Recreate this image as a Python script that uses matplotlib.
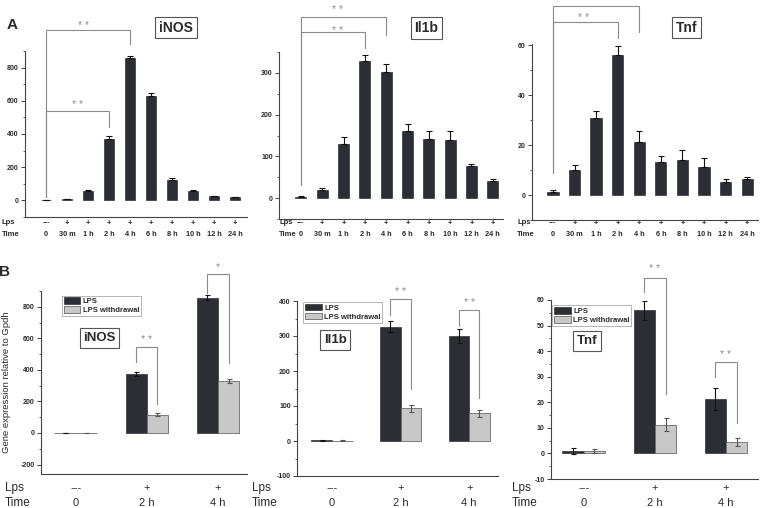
import numpy as np
import matplotlib
matplotlib.use('Agg')
import matplotlib.pyplot as plt
import matplotlib.transforms as mtransforms
from matplotlib.ticker import MultipleLocator
from matplotlib.patches import Patch

plt.rcParams['font.family'] = ['Liberation Sans', 'DejaVu Sans']
plt.rcParams['axes.unicode_minus'] = False

# ---- panel A data (time course) ----
time_a = ['0', '30 m', '1 h', '2 h', '4 h', '6 h', '8 h', '10 h', '12 h', '24 h']
lps_a = ['---', '+', '+', '+', '+', '+', '+', '+', '+', '+']
inos_a = [2, 6, 55, 372, 856, 628, 124, 54, 24, 20]
inos_a_err = [3, 3, 5, 14, 14, 18, 10, 9, 3, 3]
il1b_a = [2, 20, 129, 328, 302, 161, 142, 140, 76, 42]
il1b_a_err = [2, 5, 17, 16, 19, 17, 18, 20, 5, 3]
tnf_a = [1.1, 10.1, 31.0, 56.0, 21.3, 13.4, 14.2, 11.3, 5.4, 6.3]
tnf_a_err = [1.0, 1.8, 2.8, 3.9, 4.6, 2.4, 3.8, 3.5, 1.0, 1.1]

# ---- panel B data (LPS vs withdrawal) ----
time_b = ['0', '2 h', '4 h']
lps_b = ['---', '+', '+']
legend_labels = ['LPS', 'LPS withdrawal']
inos_lps = [0, 375, 858]
inos_lps_err = [3, 12, 14]
inos_wd = [0, 117, 328]
inos_wd_err = [2, 8, 14]
il1b_lps = [2, 327, 300]
il1b_lps_err = [2, 15, 19]
il1b_wd = [1, 93, 79]
il1b_wd_err = [1, 9, 9]
tnf_lps = [1.0, 55.9, 21.3]
tnf_lps_err = [1.1, 3.9, 4.4]
tnf_wd = [1.0, 11.3, 4.6]
tnf_wd_err = [0.9, 2.5, 1.6]

W, H = 768, 508
DARK = '#2b2e35'
LIGHT = '#c8c8c8'
TXT = '#2a2a2a'
GRAY = '#8a8a8a'

fig = plt.figure(figsize=(W / 100, H / 100), dpi=100)


def px_rect(l, r, t, b):
    return [l / W, 1 - b / H, (r - l) / W, (b - t) / H]


def style_axes(ax, yticks, minor, size):
    for s in ['top', 'right']:
        ax.spines[s].set_visible(False)
    for s in ['left', 'bottom']:
        ax.spines[s].set_color('#444')
        ax.spines[s].set_linewidth(0.8)
    ax.set_xticks([])
    ax.set_yticks(yticks)
    ax.yaxis.set_minor_locator(MultipleLocator(minor))
    ax.tick_params(axis='y', which='major', direction='out', length=3, width=0.7,
                   labelsize=size, colors='#444', labelcolor=TXT, pad=1.5)
    ax.tick_params(axis='y', which='minor', direction='out', length=1.8, width=0.6, colors='#444')
    for lab in ax.get_yticklabels():
        lab.set_fontweight('bold')


def bracket(ax, xl, xr, yt, yl, yr):
    ax.plot([xl, xl, xr, xr], [yl, yt, yt, yr], color=GRAY, lw=0.8, clip_on=False,
            solid_joinstyle='miter')


def panel_a(rect, vals, errs, ylim, xlim, yticks, minor, brackets, stars, lab_x):
    ax = fig.add_axes(px_rect(*rect))
    x = np.arange(len(vals))
    ax.bar(x, vals, width=0.52, color=DARK, edgecolor='#15171b', linewidth=0.4,
           yerr=[np.zeros(len(errs)), errs],
           error_kw=dict(ecolor='#111', elinewidth=0.8, capsize=2, capthick=0.8))
    ax.set_xlim(*xlim)
    ax.set_ylim(*ylim)
    style_axes(ax, yticks, minor, 5)
    for b in brackets:
        bracket(ax, *b)
    for sx, sy in stars:
        ax.text(sx, sy, '* *', ha='center', va='top', fontsize=7.5, color=GRAY)
    tr = mtransforms.blended_transform_factory(ax.transData, fig.transFigure)
    for i in x:
        ax.text(i, 1 - 223 / H, lps_a[i], transform=tr, ha='center', va='center',
                fontsize=5.5, fontweight='bold', color=TXT)
        ax.text(i, 1 - 234 / H, time_a[i], transform=tr, ha='center', va='center',
                fontsize=5.3, fontweight='bold', color=TXT)
    fig.text(lab_x / W, 1 - 223 / H, 'Lps', ha='left', va='center', fontsize=5.5,
             fontweight='bold', color=TXT)
    fig.text(lab_x / W, 1 - 234 / H, 'Time', ha='left', va='center', fontsize=5.5,
             fontweight='bold', color=TXT)
    return ax


def panel_b(rect, lps, lps_err, wd, wd_err, ylim, xlim, yticks, minor, brackets, stars,
            gene, gene_xy, leg_xy, lab_x):
    ax = fig.add_axes(px_rect(*rect))
    x = np.arange(len(lps))
    ekw = dict(elinewidth=0.8, capsize=1.8, capthick=0.8)
    ax.bar(x - 0.15, lps, width=0.3, color=DARK, edgecolor='#15171b', linewidth=0.4,
           yerr=lps_err, error_kw=dict(ecolor='#111', **ekw))
    ax.bar(x + 0.15, wd, width=0.3, color=LIGHT, edgecolor='#6a6a6a', linewidth=0.6,
           yerr=wd_err, error_kw=dict(ecolor='#555', **ekw))
    ax.set_xlim(*xlim)
    ax.set_ylim(*ylim)
    style_axes(ax, yticks, minor, 5)
    for b in brackets:
        bracket(ax, *b)
    for s, sx, sy in stars:
        ax.text(sx, sy, s, ha='center', va='top', fontsize=7.5, color=GRAY)
    handles = [Patch(facecolor=DARK, edgecolor='#15171b', linewidth=0.4),
               Patch(facecolor=LIGHT, edgecolor='#6a6a6a', linewidth=0.6)]
    leg = ax.legend(handles, legend_labels, loc='upper left', bbox_to_anchor=leg_xy,
                    prop=dict(size=5.5, weight='bold'), frameon=True, fancybox=False,
                    edgecolor='#aaaaaa', framealpha=1, borderpad=0.25, handlelength=2.2,
                    handleheight=0.9, handletextpad=0.3, labelspacing=0.15,
                    borderaxespad=0)
    leg.get_frame().set_linewidth(0.6)
    for t in leg.get_texts():
        t.set_color(TXT)
    ax.text(gene_xy[0], gene_xy[1], gene, transform=ax.transAxes, ha='center', va='center',
            fontsize=9.5, fontweight='bold', color=TXT,
            bbox=dict(boxstyle='square,pad=0.28', fc='white', ec='#555', lw=0.8))
    tr = mtransforms.blended_transform_factory(ax.transData, fig.transFigure)
    for i in x:
        ax.text(i, 1 - 488 / H, lps_b[i], transform=tr, ha='center', va='center',
                fontsize=8, color=TXT)
        ax.text(i, 1 - 503 / H, time_b[i], transform=tr, ha='center', va='center',
                fontsize=8, color=TXT)
    fig.text(lab_x / W, 1 - 488 / H, 'Lps', ha='left', va='center', fontsize=8.5, color=TXT)
    fig.text(lab_x / W, 1 - 503 / H, 'Time', ha='left', va='center', fontsize=8.5, color=TXT)
    return ax


# ---- row A ----
panel_a((25, 247, 51, 217), inos_a, inos_a_err, (-100, 900), (-1.0, 9.57),
        [0, 200, 400, 600, 800], 100,
        [(0, 4, 1026, 22, 942), (0, 3, 536, 22, 442)],
        [(1.8, 1080), (1.5, 605)], 2)
panel_a((279, 503, 52, 219), il1b_a, il1b_a_err, (-50, 350), (-1.03, 9.48),
        [0, 100, 200, 300], 50,
        [(0, 4, 435, 31, 390), (0, 3, 398, 31, 359)],
        [(1.74, 463), (1.74, 412)], 279)
panel_a((532, 758, 44, 220), tnf_a, tnf_a_err, (-10, 60.6), (-0.97, 9.5),
        [0, 20, 40, 60], 10,
        [(0, 4, 75.8, 8.7, 65.5), (0, 3, 69.4, 8.7, 63.1)],
        [(1.4, 73)], 517)

box = dict(boxstyle='square,pad=0.28', fc='white', ec='#555', lw=0.8)
for gx, gy, gname in [(176, 27.5, 'iNOS'), (426.5, 28, 'Il1b'), (686.5, 27.5, 'Tnf')]:
    fig.text(gx / W, 1 - gy / H, gname, ha='center', va='center', fontsize=10,
             fontweight='bold', color=TXT, bbox=box)

# ---- row B ----
panel_b((41, 247, 291, 474), inos_lps, inos_lps_err, inos_wd, inos_wd_err,
        (-260, 900), (-0.49, 2.41), [-200, 0, 200, 400, 600, 800], 100,
        [(0.85, 1.15, 545, 447, 184), (1.85, 2.15, 1005, 890, 441)],
        [('* *', 1.0, 620), ('*', 2.0, 1085)],
        'iNOS', (0.284, 0.743), (0.10, 0.975), 5)
panel_b((297, 498, 301, 476), il1b_lps, il1b_lps_err, il1b_wd, il1b_wd_err,
        (-100, 400), (-0.51, 2.42), [-100, 0, 100, 200, 300, 400], 50,
        [(0.85, 1.15, 406, 360, 150), (1.85, 2.15, 374, 330, 122)],
        [('* *', 1.0, 440), ('* *', 2.0, 409)],
        'Il1b', (0.19, 0.777), (0.03, 0.994), 252)
panel_b((551, 758, 300, 479), tnf_lps, tnf_lps_err, tnf_wd, tnf_wd_err,
        (-10, 60), (-0.46, 2.45), [-10, 0, 10, 20, 30, 40, 50, 60], 5,
        [(0.85, 1.15, 68.7, 63.2, 23.2), (1.85, 2.15, 35.6, 29.9, 11.9)],
        [('* *', 1.0, 74), ('* *', 2.0, 40.5)],
        'Tnf', (0.174, 0.77), (0.005, 0.97), 512)

fig.text(7 / W, 1 - 382 / H, 'Gene expression relative to Gpdh', rotation=90,
         ha='center', va='center', fontsize=6.8, color=TXT)
fig.text(12 / W, 1 - 25 / H, 'A', ha='center', va='center', fontsize=11,
         fontweight='bold', color=TXT)
fig.text(4 / W, 1 - 272 / H, 'B', ha='center', va='center', fontsize=11,
         fontweight='bold', color=TXT)

fig.savefig('out.png', dpi=100)
